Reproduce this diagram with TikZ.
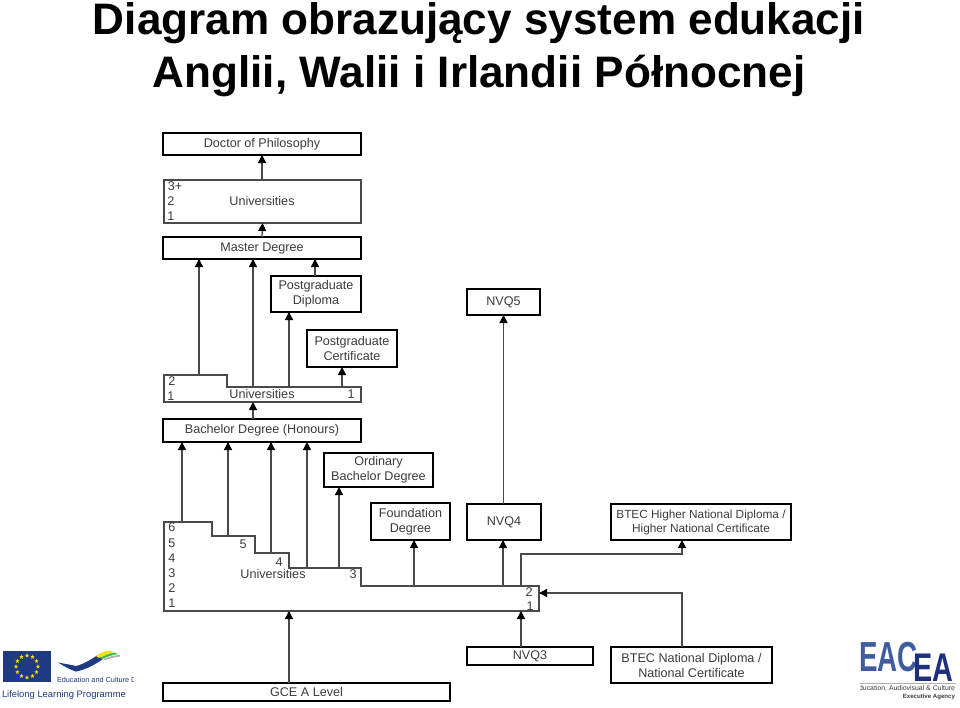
\documentclass[tikz,border=0pt]{standalone}
\usepackage{fontspec}
\setmainfont{Liberation Sans}
\usetikzlibrary{arrows.meta,shapes.geometric}
\definecolor{lbl}{HTML}{3C3C3C}
\definecolor{ln}{HTML}{4A4A4A}
\definecolor{eunavy}{HTML}{1F3A80}
\definecolor{eacblue}{HTML}{3E5C9E}
\definecolor{eanavy}{HTML}{1F2F80}
\tikzset{
  every node/.style={inner sep=0pt,outer sep=0pt,text=lbl,font=\fontsize{12.6}{15}\selectfont,align=center},
  degbox/.style={draw=black,line width=2.8pt,fill=white},
  smallbox/.style={degbox,font=\fontsize{11.8}{14}\selectfont},
  thinpoly/.style={draw=ln,line width=1.3pt,line join=miter},
  arr/.style={draw=ln,line width=1.3pt,-{Triangle[length=8pt,width=8pt,color=black]}},
  titletext/.style={anchor=base,text=black,font=\fontsize{44.1}{50}\selectfont\bfseries},
  eustar/.style={star,star points=5,star point ratio=2.4,fill=yellow!85!orange,minimum size=4.5pt},
}
\newcommand{\degbx}[6]{\node[degbox,minimum width=#4pt-#2pt,minimum height=#5pt-#3pt] (#1) at ({(#2+#4)/2},{(#3+#5)/2}) {#6};}
\begin{document}
\begin{tikzpicture}[x=1pt,y=-1pt]
\useasboundingbox[fill=white] (0,0) rectangle (960,707);
% title
\node[titletext] (t1) at (479,34) {Diagram obrazujący system edukacji};
\node[titletext] (t2) at (479,87) {Anglii, Walii i Irlandii Północnej};

% degree boxes
\degbx{phd}{163}{133}{361}{155}{Doctor of Philosophy}
\degbx{master}{163}{237}{361}{259}{Master Degree}
\degbx{pgd}{271}{276}{361}{312}{Postgraduate\\Diploma}
\degbx{pgc}{307}{330}{397}{367}{Postgraduate\\Certificate}
\degbx{bach}{163}{419}{361}{442}{Bachelor Degree (Honours)}
\degbx{ord}{324}{453}{433}{487}{Ordinary\\Bachelor Degree}
\degbx{fd}{371}{503}{450}{540}{Foundation\\Degree}
\degbx{nvqfour}{467}{504}{541}{540}{NVQ4}
\degbx{nvqfive}{467}{289}{540}{315}{NVQ5}
\node[smallbox,minimum width=180pt,minimum height=36pt] (hnd) at (701,522) {BTEC Higher National Diploma /\\Higher National Certificate};
\degbx{nvqthree}{467}{647}{593}{665}{NVQ3}
\degbx{bnd}{611}{647}{772}{683}{BTEC National Diploma /\\National Certificate}
\degbx{gce}{163}{683}{450}{701}{GCE A Level}

% university blocks
\node[thinpoly,fill=white,minimum width=197pt,minimum height=43pt] (uA) at (262.5,201.5) {};
\node (uAlab) at (262,200.5) {Universities};
\node (uAa) at (175,186) {3+};
\node (uAb) at (171,201) {2};
\node (uAc) at (171,216) {1};

\draw[thinpoly] (164,375) -- (227,375) -- (227,387) -- (361,387) -- (361,402) -- (164,402) -- cycle;
\coordinate (uBl) at (199,375);
\coordinate (uBm) at (253,387);
\coordinate (uBd) at (289,387);
\coordinate (uBc) at (342,387);
\coordinate (uBb) at (253,402);
\node (uBlab) at (262,394) {Universities};
\node (uB2) at (172,381) {2};
\node (uB1) at (171,396) {1};
\node (uB1r) at (351,394) {1};

\draw[thinpoly] (164,522) -- (212,522) -- (212,536) -- (255,536) -- (255,553) -- (289,553) -- (289,568) -- (361,568) -- (361,586) -- (539,586) -- (539,611) -- (164,611) -- cycle;
\coordinate (uCa) at (182,522);
\coordinate (uCb) at (228,536);
\coordinate (uCc) at (271,553);
\coordinate (uCd) at (307,568);
\coordinate (uCe) at (339,568);
\coordinate (uCf) at (414,586);
\coordinate (uCg) at (503,586);
\coordinate (uCh) at (521,586);
\coordinate (uCi) at (289,611);
\coordinate (uCj) at (521,611);
\coordinate (uCk) at (539,593);
\coordinate (hndc) at (682,540);
\coordinate (bndc) at (682,647);
\node (uCn6) at (172,527) {6};
\node (uCn5) at (172,543) {5};
\node (uCn4) at (172,558) {4};
\node (uCn3) at (172,573) {3};
\node (uCn2) at (172,588) {2};
\node (uCn1) at (172,603) {1};
\node (uCs5) at (243,544) {5};
\node (uCs4) at (279,562) {4};
\node (uClab) at (273,574) {Universities};
\node (uCs3) at (353,574) {3};
\node (uCr2) at (529,592) {2};
\node (uCr1) at (530,606) {1};

% connectors
\draw[arr] (uA.north -| phd.south) -- (phd.south);
\draw[arr] (master.north) -- (uA.south);
\draw[arr] (uBl) -- (uBl |- master.south);
\draw[arr] (uBm) -- (uBm |- master.south);
\coordinate (pgdt) at (315,276);
\draw[arr] (pgdt) -- (pgdt |- master.south);
\draw[arr] (uBd) -- (uBd |- pgd.south);
\draw[arr] (uBc) -- (uBc |- pgc.south);
\draw[arr] (bach.north -| uBb) -- (uBb);
\draw[arr] (uCa) -- (uCa |- bach.south);
\draw[arr] (uCb) -- (uCb |- bach.south);
\draw[arr] (uCc) -- (uCc |- bach.south);
\draw[arr] (uCd) -- (uCd |- bach.south);
\draw[arr] (uCe) -- (uCe |- ord.south);
\draw[arr] (uCf) -- (uCf |- fd.south);
\draw[arr] (uCg) -- (uCg |- nvqfour.south);
\draw[arr] (nvqfour.north -| nvqfive.south) -- (nvqfive.south);
\draw[arr] (uCh) -- (521,554) -- (682,554) -- (hndc);
\draw[arr] (gce.north -| uCi) -- (uCi);
\draw[arr] (nvqthree.north -| uCj) -- (uCj);
\draw[arr] (bndc) -- (682,593) -- (uCk);

% EU flag and programme logo
\fill[eunavy] (3,651) rectangle (51,682);
\foreach \a in {0,30,...,330}
  \node[eustar] at ({27+11*cos(\a)},{666.5+11*sin(\a)}) {};
\fill[eunavy] (58,662.5) .. controls (66,664) and (72,665) .. (76,666) .. controls (84,664) and (90,660) .. (98,655) -- (103,659) .. controls (93,666) and (84,670) .. (76,671.5) .. controls (70,670) and (64,666) .. cycle;
\fill[yellow!80!orange] (96,656) .. controls (100,653) and (105,651) .. (110,650.5) -- (113,652) .. controls (108,653) and (103,656) .. (99,658) -- cycle;
\fill[green!50!gray] (100,658) .. controls (105,655) and (110,653) .. (114,652.5) -- (118,654) .. controls (112,655) and (106,657) .. (102,659) -- cycle;
\fill[gray!60] (103,659) .. controls (108,657) and (114,655) .. (120,655) -- (120,656.5) .. controls (114,657) and (108,659) .. (105,660) -- cycle;
\begin{scope}
\clip (40,672) rectangle (133,688);
\node[anchor=west,text=eunavy,font=\fontsize{7.3}{9}\selectfont] (eac) at (57,680) {Education and Culture DG};
\end{scope}
\node[anchor=west,text=eunavy,font=\fontsize{9.4}{12}\selectfont] (llp) at (2,695) {Lifelong Learning Programme};

% EACEA logo
\begin{scope}
\clip (860,630) rectangle (960,707);
\node[anchor=west,text=eacblue,font=\fontsize{42}{44}\selectfont\bfseries,transform shape,xscale=.66] (eaclogo) at (859,657) {EAC};
\node[anchor=west,text=eanavy,font=\fontsize{40}{44}\selectfont\bfseries,transform shape,xscale=.72] (ealogo) at (913,667.5) {EA};
\draw[gray!60,line width=0.5pt] (860,683.5) -- (956,683.5);
\node[anchor=east,text=lbl,font=\fontsize{6.9}{8}\selectfont] (eat1) at (955,688) {Education, Audiovisual \& Culture};
\end{scope}
\node[anchor=east,text=lbl,font=\fontsize{6.1}{8}\selectfont\bfseries] (eat2) at (955,696.5) {Executive Agency};
\end{tikzpicture}
\end{document}
